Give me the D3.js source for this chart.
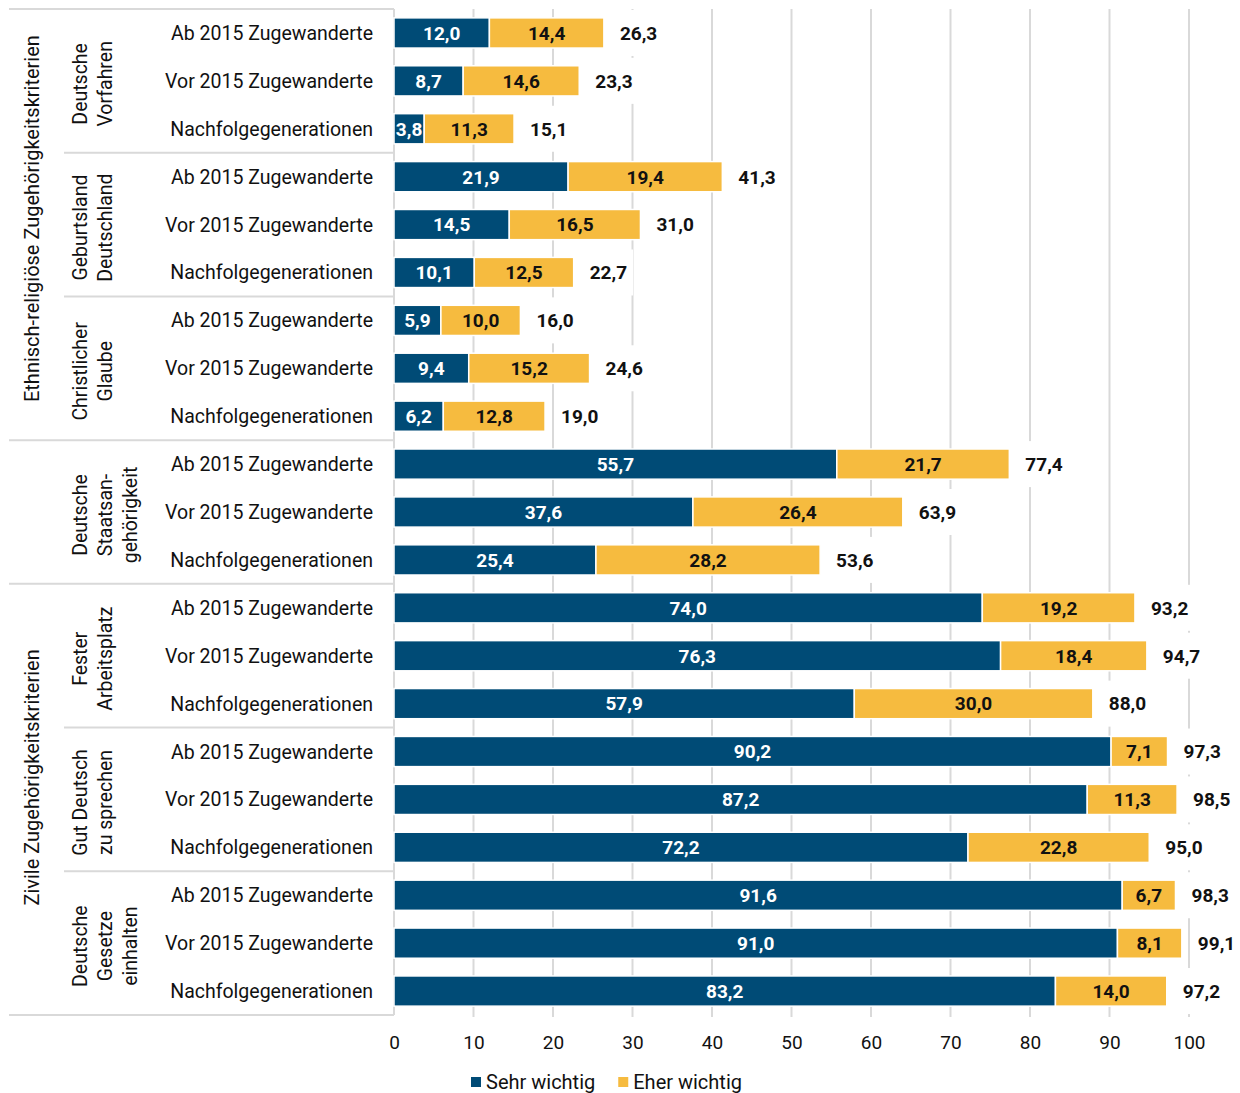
<!DOCTYPE html>
<html><head><meta charset="utf-8">
<script src="https://cdn.jsdelivr.net/npm/d3@7"></script>
<style>body{margin:0;background:#fff}svg{display:block}</style>
</head><body>
<svg id="c" width="1240" height="1093"></svg>
<script>
const rowLabels = ["Ab 2015 Zugewanderte","Vor 2015 Zugewanderte","Nachfolgegenerationen"];
const criteria = [["Deutsche","Vorfahren"],["Geburtsland","Deutschland"],["Christlicher","Glaube"],["Deutsche","Staatsan-","gehörigkeit"],["Fester","Arbeitsplatz"],["Gut Deutsch","zu sprechen"],["Deutsche","Gesetze","einhalten"]];
const outerGroups = [{label:"Ethnisch-religiöse Zugehörigkeitskriterien", from:0, to:2},{label:"", from:3, to:3},{label:"Zivile Zugehörigkeitskriterien", from:4, to:6}];
const sehrWichtig = [12.0,8.7,3.8, 21.9,14.5,10.1, 5.9,9.4,6.2, 55.7,37.6,25.4, 74.0,76.3,57.9, 90.2,87.2,72.2, 91.6,91.0,83.2];
const eherWichtig = [14.4,14.6,11.3, 19.4,16.5,12.5, 10.0,15.2,12.8, 21.7,26.4,28.2, 19.2,18.4,30.0, 7.1,11.3,22.8, 6.7,8.1,14.0];
const totals = [26.3,23.3,15.1, 41.3,31.0,22.7, 16.0,24.6,19.0, 77.4,63.9,53.6, 93.2,94.7,88.0, 97.3,98.5,95.0, 98.3,99.1,97.2];
const xTicks = [0,10,20,30,40,50,60,70,80,90,100];
const seriesNames = ["Sehr wichtig","Eher wichtig"];
const colors = ["#004b76","#f6bb3f"];

const FONT = "Roboto, sans-serif";
const fmt = v => d3.format(".1f")(v).replace(".", ",");
const svg = d3.select("#c").style("font-family", FONT);

const rows = d3.range(21);
const x = d3.scaleLinear().domain([0,100]).range([394,1189]);
const y = d3.scaleBand().domain(rows).range([9,1015]).paddingInner(0.37).paddingOuter(0.185);
const step = y.step();
const top0 = 9, bottom = 1015;
const grid = "#d9d9d9";

svg.append("g").selectAll("line").data(xTicks.slice(1)).join("line")
  .attr("x1", d=>x(d)).attr("x2", d=>x(d)).attr("y1", top0).attr("y2", bottom+2)
  .attr("stroke", grid).attr("stroke-width", 2);

const lines = [];
lines.push({y: top0, x1: 9});
for (let g = 1; g <= 7; g++) {
  const yy = top0 + g*3*step;
  const outerBoundary = (g===3 || g===4 || g===7);
  lines.push({y: yy, x1: outerBoundary ? 9 : 64});
}
svg.append("g").selectAll("line").data(lines).join("line")
  .attr("x1", d=>d.x1).attr("x2", 394).attr("y1", d=>d.y).attr("y2", d=>d.y)
  .attr("stroke", grid).attr("stroke-width", 2);
svg.append("line").attr("x1", x(0)).attr("x2", x(0)).attr("y1", top0).attr("y2", bottom)
  .attr("stroke", grid).attr("stroke-width", 2);

const totG = svg.append("g");
rows.forEach(i => {
  const end = x(sehrWichtig[i] + eherWichtig[i]);
  const t = totG.append("text").attr("x", end + 16).attr("y", y(i) + y.bandwidth()/2)
    .attr("dy", "0.36em").attr("font-size", 19).attr("font-weight", "bold").attr("fill", "#111")
    .text(fmt(totals[i]));
  const w = t.node().getComputedTextLength();
  totG.insert("rect", "text").attr("x", end + 10).attr("y", y(i) + y.bandwidth()/2 - 23)
    .attr("width", w + 12).attr("height", 46).attr("fill", "#fff");
});

const barsG = svg.append("g");
rows.forEach(i => {
  const segs = [[0, sehrWichtig[i]], [sehrWichtig[i], sehrWichtig[i] + eherWichtig[i]]];
  segs.forEach((s, k) => {
    barsG.append("rect").attr("x", x(s[0])).attr("y", y(i))
      .attr("width", x(s[1]) - x(s[0])).attr("height", y.bandwidth())
      .attr("fill", colors[k]).attr("stroke", "#fff").attr("stroke-width", 1.5);
    barsG.append("text").attr("x", (x(s[0]) + x(s[1]))/2).attr("y", y(i) + y.bandwidth()/2)
      .attr("dy", "0.36em").attr("text-anchor", "middle").attr("font-size", 19).attr("font-weight", "bold")
      .attr("fill", k===0 ? "#fff" : "#111")
      .text(fmt(k===0 ? sehrWichtig[i] : eherWichtig[i]));
  });
});

svg.append("g").selectAll("text").data(rows).join("text")
  .attr("x", 373).attr("y", d => y(d) + y.bandwidth()/2).attr("dy", "0.36em")
  .attr("text-anchor", "end").attr("font-size", 19.5).attr("fill", "#111")
  .text(d => rowLabels[d % 3]);

criteria.forEach((lns, g) => {
  const cy = top0 + (g*3 + 1.5)*step + 3;
  lns.forEach((ln, j) => {
    const cx = 80 + j*25;
    svg.append("text").attr("transform", `translate(${cx},${cy}) rotate(-90)`)
      .attr("dy", "0.36em").attr("text-anchor", "middle").attr("font-size", 19.5).attr("fill", "#111")
      .text(ln);
  });
});

const outerOffsets = [-6, 0, -22];
outerGroups.forEach((og, k) => {
  if (!og.label) return;
  const cy = top0 + ((og.from*3) + (og.to*3 + 3))/2*step + outerOffsets[k];
  svg.append("text").attr("transform", `translate(32,${cy}) rotate(-90)`)
    .attr("dy", "0.36em").attr("text-anchor", "middle").attr("font-size", 20).attr("fill", "#111")
    .text(og.label);
});

const axis = d3.axisBottom(x).tickValues(xTicks).tickSize(0).tickPadding(0).tickFormat(d => d);
const ax = svg.append("g").attr("transform", `translate(0,1035)`).call(axis);
ax.select(".domain").remove();
ax.selectAll("text").attr("font-size", 19).attr("fill", "#111").attr("font-family", FONT);

const leg = svg.append("g");
let lx = 471;
seriesNames.forEach((n, k) => {
  leg.append("rect").attr("x", lx).attr("y", 1077).attr("width", 10).attr("height", 10).attr("fill", colors[k]);
  const t = leg.append("text").attr("x", lx + 15).attr("y", 1082).attr("dy", "0.36em")
    .attr("font-size", 20).attr("fill", "#111").text(n);
  lx += 15 + t.node().getComputedTextLength() + 23;
});
</script>
</body></html>
